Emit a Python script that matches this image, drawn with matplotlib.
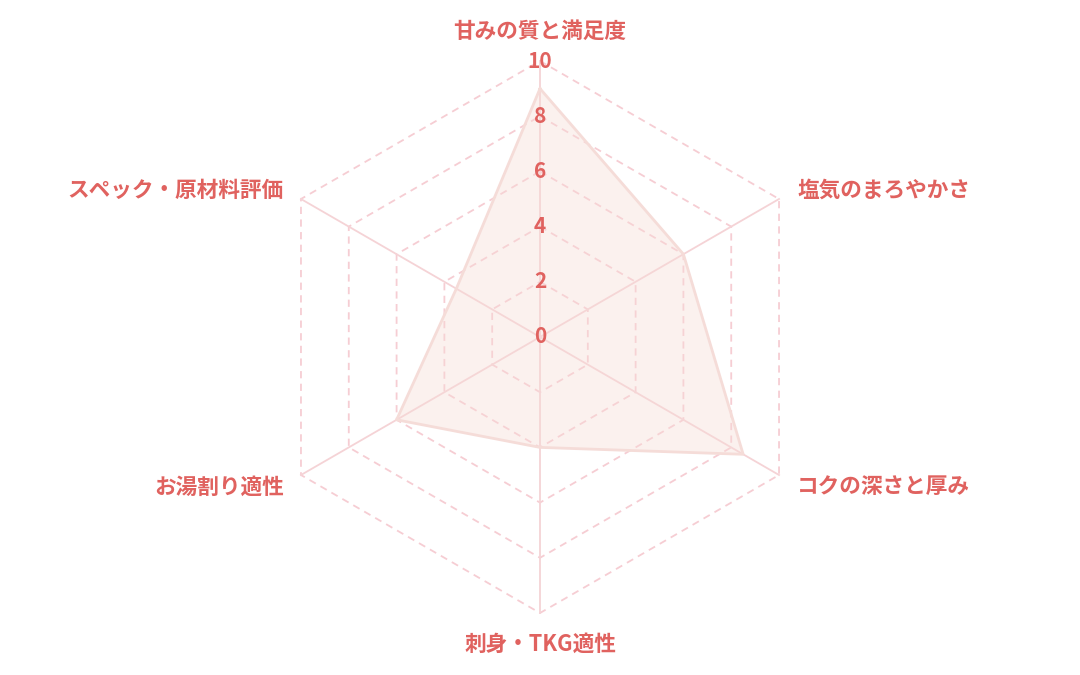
import numpy as np
import matplotlib
matplotlib.use("Agg")
import matplotlib.pyplot as plt

plt.rcParams['font.family'] = ['Noto Sans CJK JP', 'DejaVu Sans']

# data
categories = ['甘みの質と満足度', '塩気のまろやかさ', 'コクの深さと厚み',
              '刺身・TKG適性', 'お湯割り適性', 'スペック・原材料評価']
values = [9, 6, 8.5, 4, 6, 3.5]
ticks = [0, 2, 4, 6, 8, 10]

text_col = '#e0625f'
grid_col = '#f6cdd3'
spoke_col = '#f5d3d6'
fill_col = '#f7dcd6'
edge_col = '#f5dcd8'

# figure: 1080x675, centre at (540, 337) px, radius 276 px for value 10
W, H = 1080, 675
cx, cy = 540, 337
scale = 27.6  # px per value unit

fig = plt.figure(figsize=(W / 100, H / 100), dpi=100)
ax = fig.add_axes([0, 0, 1, 1])
ax.set_xlim(-cx / scale, (W - cx) / scale)
ax.set_ylim(-(H - cy) / scale, cy / scale)
ax.set_aspect('equal')
ax.axis('off')

n = len(categories)
ang = np.deg2rad(90 - 60 * np.arange(n))
ca, sa = np.cos(ang), np.sin(ang)

# dashed hexagon grid
for lv in ticks[1:]:
    xs = np.append(lv * ca, lv * ca[0])
    ys = np.append(lv * sa, lv * sa[0])
    ax.plot(xs, ys, color=grid_col, lw=1.3, dashes=(4, 3), zorder=1)

# spokes
for i in range(n):
    ax.plot([0, 10 * ca[i]], [0, 10 * sa[i]], color=spoke_col, lw=1.3, zorder=1)

# data polygon
v = np.array(values)
px = np.append(v * ca, v[0] * ca[0])
py = np.append(v * sa, v[0] * sa[0])
ax.fill(px, py, color=fill_col, alpha=0.4, lw=0, zorder=2)
ax.plot(px, py, color=edge_col, lw=2, zorder=3)

# tick labels
for t in ticks:
    ax.text(0, t, str(t), ha='center', va='center', color=text_col,
            fontsize=15, fontweight='bold', zorder=4)

# category labels (offsets in px)
offs = [(0, 30, 'center'), (18, 9, 'left'), (18, -12, 'left'),
        (0, -31, 'center'), (-17, -12, 'right'), (-17, 9, 'right')]
for i, lab in enumerate(categories):
    dx, dy, ha = offs[i]
    ax.text(10 * ca[i] + dx / scale, 10 * sa[i] + dy / scale, lab,
            ha=ha, va='center', color=text_col, fontsize=15.6,
            fontweight='bold', zorder=4)

fig.savefig('out.png', dpi=100, facecolor='white')
